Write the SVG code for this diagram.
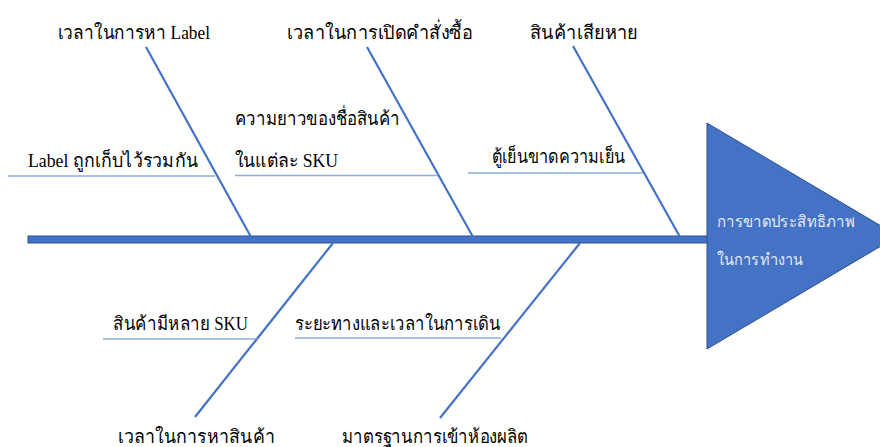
<svg xmlns="http://www.w3.org/2000/svg" width="880" height="447" viewBox="0 0 880 447">
<style>
.lbl{font-family:"Liberation Serif","Noto Serif",serif;font-size:19px;fill:#000}
.head{font-family:"Noto Sans","DejaVu Sans",sans-serif;font-size:16px;fill:#e4eaf6}
.bone{stroke:#4472C4;stroke-width:2.2;fill:none}
.sub{stroke:#8eaadb;stroke-width:1.5;fill:none}
</style>
<rect width="880" height="447" fill="#fff"/>
<g id="connectors">
<rect x="28" y="236" width="680" height="7" fill="#4472C4" stroke="#2F528F" stroke-width="1"/>
<line class="bone" x1="146" y1="47" x2="251" y2="237"/>
<line class="bone" x1="367" y1="47" x2="473" y2="237"/>
<line class="bone" x1="573" y1="46" x2="680" y2="237"/>
<line class="bone" x1="333" y1="243" x2="195" y2="417"/>
<line class="bone" x1="580" y1="243" x2="440" y2="418"/>
<line class="sub" x1="8" y1="176" x2="215" y2="176"/>
<line class="sub" x1="235" y1="175.5" x2="438" y2="175.5"/>
<line class="sub" x1="468" y1="173" x2="643" y2="173"/>
<line class="sub" x1="103" y1="339" x2="257" y2="339"/>
<line class="sub" x1="295" y1="338" x2="501" y2="338"/>
</g>
<g id="head">
<polygon points="707,123 898,236 707,349" fill="#4472C4" stroke="#2F528F" stroke-width="1"/>
<text class="head" x="717" y="227" textLength="138" lengthAdjust="spacingAndGlyphs">การขาดประสิทธิภาพ</text>
<text class="head" x="717" y="265" textLength="86" lengthAdjust="spacingAndGlyphs">ในการทำงาน</text>
</g>
<g id="cause1"><text class="lbl" x="58" y="39" textLength="152" lengthAdjust="spacingAndGlyphs">เวลาในการหา Label</text></g>
<g id="cause2"><text class="lbl" x="287" y="39" textLength="185" lengthAdjust="spacingAndGlyphs">เวลาในการเปิดคำสั่งซื้อ</text></g>
<g id="cause3"><text class="lbl" x="530" y="39" textLength="108" lengthAdjust="spacingAndGlyphs">สินค้าเสียหาย</text></g>
<g id="cause4"><text class="lbl" x="118" y="443" textLength="157" lengthAdjust="spacingAndGlyphs">เวลาในการหาสินค้า</text></g>
<g id="cause5"><text class="lbl" x="342" y="443" textLength="186" lengthAdjust="spacingAndGlyphs">มาตรฐานการเข้าห้องผลิต</text></g>
<g id="sub1"><text class="lbl" x="28" y="167" textLength="170" lengthAdjust="spacingAndGlyphs">Label ถูกเก็บไว้รวมกัน</text></g>
<g id="sub2"><text class="lbl" x="235" y="125" textLength="165" lengthAdjust="spacingAndGlyphs">ความยาวของชื่อสินค้า</text><text class="lbl" x="235" y="167" textLength="103" lengthAdjust="spacingAndGlyphs">ในแต่ละ SKU</text></g>
<g id="sub3"><text class="lbl" x="492" y="163" textLength="133" lengthAdjust="spacingAndGlyphs">ตู้เย็นขาดความเย็น</text></g>
<g id="sub4"><text class="lbl" x="113" y="330" textLength="135" lengthAdjust="spacingAndGlyphs">สินค้ามีหลาย SKU</text></g>
<g id="sub5"><text class="lbl" x="295" y="330" textLength="205" lengthAdjust="spacingAndGlyphs">ระยะทางและเวลาในการเดิน</text></g>
</svg>
